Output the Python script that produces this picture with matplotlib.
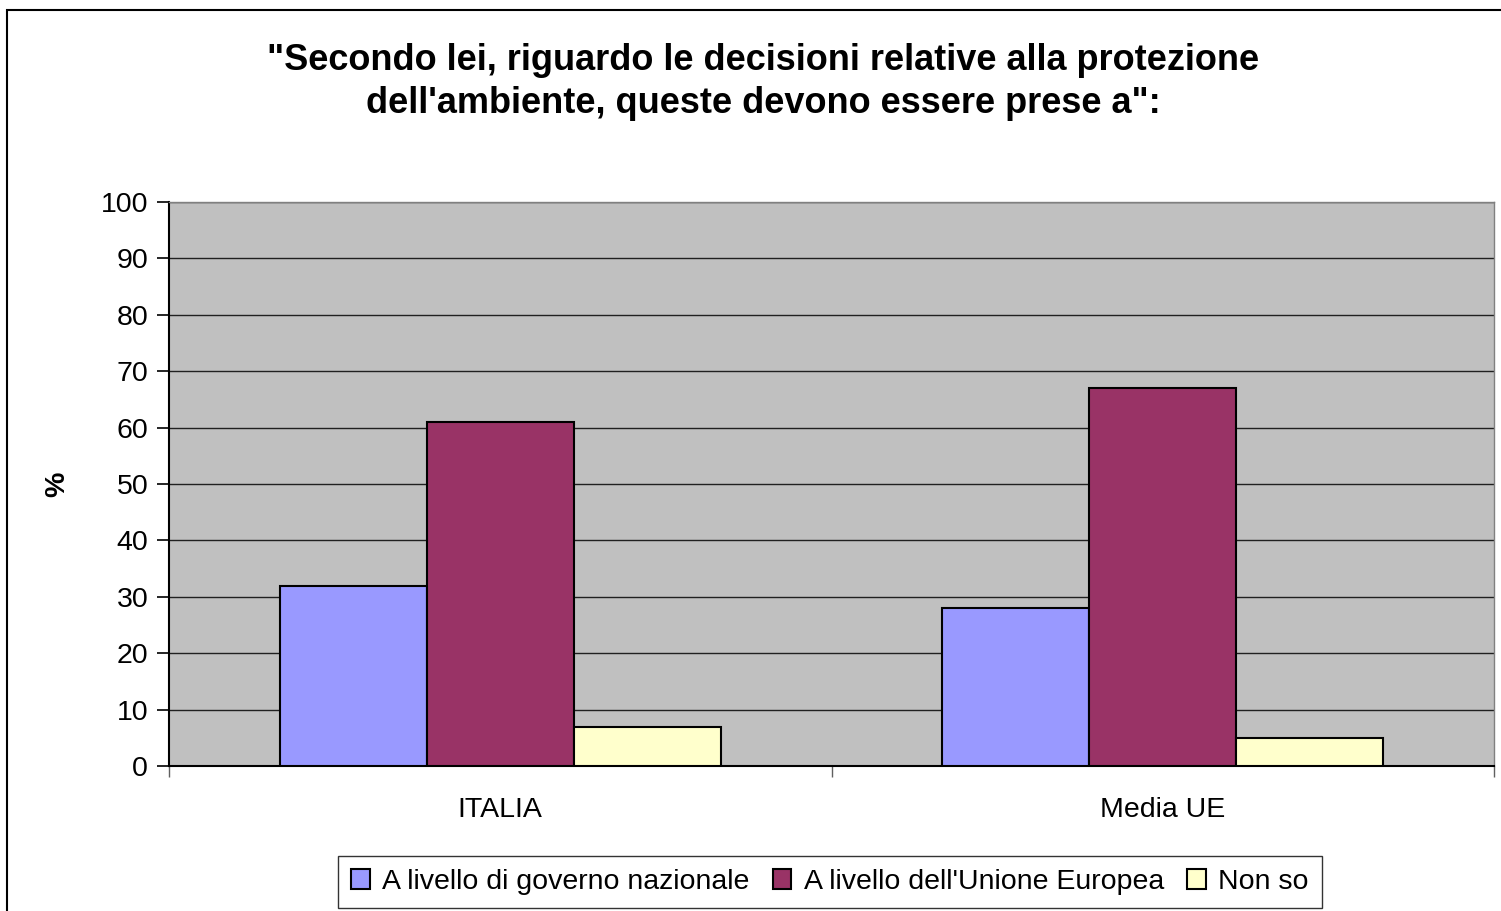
import matplotlib
matplotlib.use("Agg")
import matplotlib.pyplot as plt
from matplotlib.patches import Rectangle
import numpy as np

categories = ["ITALIA", "Media UE"]
series_names = ["A livello di governo nazionale", "A livello dell'Unione Europea", "Non so"]
nazionale = [32, 28]
unione = [61, 67]
non_so = [7, 5]
yticks = list(range(0, 101, 10))
colors = ["#9999FF", "#993366", "#FFFFCC"]

plt.rcParams['font.family'] = ['Liberation Sans', 'DejaVu Sans']

fig = plt.figure(figsize=(15.01, 9.11), dpi=100)
ax = fig.add_axes([169/1501, 1-766/911, (1494-169)/1501, (766-202)/911])

# figure border
fig.add_artist(Rectangle((7/1501, -0.01), 1.02, 1-10/911+0.01, transform=fig.transFigure,
                         fill=False, edgecolor="black", linewidth=1.5))

x = np.arange(len(categories))
w = 0.222
for i, (vals, name) in enumerate(zip([nazionale, unione, non_so], series_names)):
    ax.bar(x + (i - 1) * w, vals, width=w, color=colors[i], edgecolor="black",
           linewidth=1.5, label=name, zorder=3)

fs = 20.5
ax.set_facecolor("#C0C0C0")
ax.set_xlim(-0.5, 1.5)
ax.set_ylim(0, 100)
ax.set_yticks(yticks)
ax.set_yticklabels([str(t) for t in yticks], fontsize=fs)
ax.yaxis.grid(True, color="#202020", linewidth=1, zorder=0)
ax.set_axisbelow(True)
ax.tick_params(axis="y", direction="out", length=9, width=1.2, pad=6, color="black")

ax.set_xticks([-0.5, 0.5, 1.5])
ax.set_xticklabels([])
ax.set_xticks(x, minor=True)
ax.set_xticklabels(categories, minor=True, fontsize=fs)
ax.tick_params(axis="x", which="major", direction="out", length=8, width=1, color="#606060")
ax.tick_params(axis="x", which="minor", length=0, pad=22)

for s in ["top", "right"]:
    ax.spines[s].set_color("#808080")
    ax.spines[s].set_linewidth(1)
ax.spines["left"].set_color("black")
ax.spines["left"].set_linewidth(1.5)
ax.spines["bottom"].set_color("black")
ax.spines["bottom"].set_linewidth(1.5)

ax.set_ylabel("%", fontsize=fs, fontweight="bold", labelpad=22)

fig.text(763/1501, 1-82/911, "\"Secondo lei, riguardo le decisioni relative alla protezione\ndell'ambiente, queste devono essere prese a\":",
         ha="center", va="center", fontsize=26, fontweight="bold", linespacing=1.33)

leg = fig.legend(loc="center", bbox_to_anchor=(830/1501, 1-882/911), ncol=3, fontsize=fs,
                 frameon=True, fancybox=False, edgecolor="black", handlelength=0.65,
                 handleheight=0.65, handletextpad=0.45, columnspacing=0.8, borderpad=0.45,
                 borderaxespad=0)
leg.get_frame().set_linewidth(1)

fig.savefig("out.png", dpi=100)
